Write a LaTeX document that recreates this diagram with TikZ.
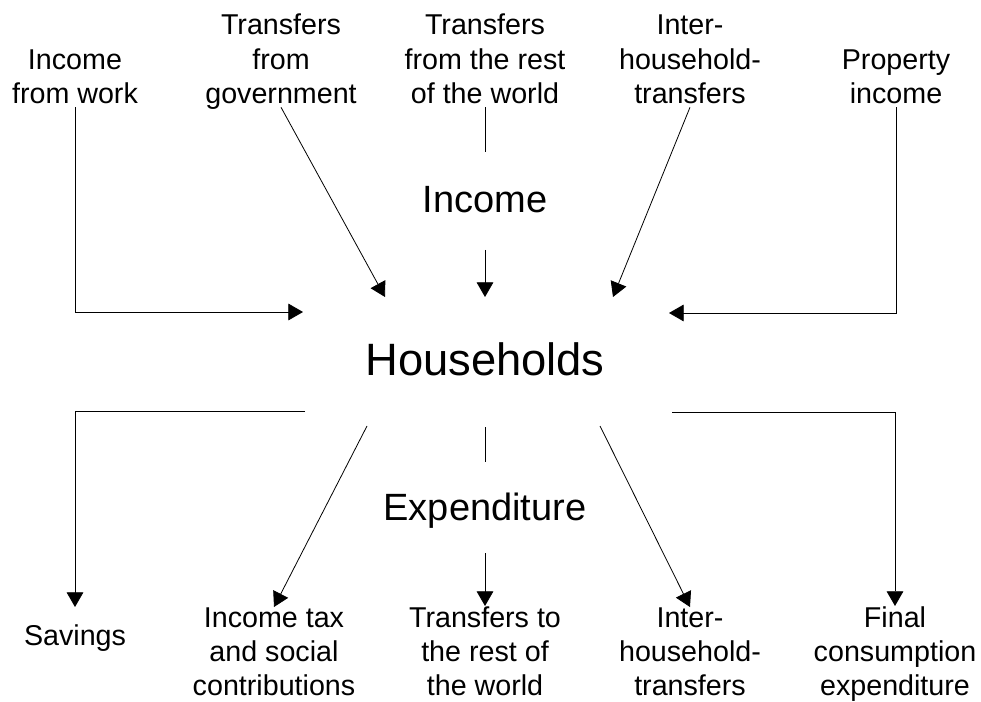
\documentclass[tikz,border=0pt]{standalone}
\usepackage{fontspec}
\setmainfont{Liberation Sans}
\usetikzlibrary{arrows.meta}
\tikzset{
	flow/.style={line width=0.6pt, -{Triangle[length=11pt,width=12.5pt]}},
	stub/.style={line width=0.6pt},
	source/.style={align=center, anchor=base, text depth=0pt, inner sep=2.25pt, font=\fontsize{21.5}{26}\selectfont},
	sink/.style={align=center, anchor=base, inner sep=0pt, font=\fontsize{21.5}{25.5}\selectfont},
	title/.style={anchor=base, inner sep=0pt, font=\fontsize{28.5}{34}\selectfont},
}

\begin{document}
\begin{tikzpicture}[x=0.75pt, y=-0.75pt]
		%%%%% START %%%%%
		\useasboundingbox (0, 0) rectangle (981, 702);
		
		% income side
		\node[source] (work) at (75, 104) {Income\\from work};
		\node[source] (gov) at (281, 104) {Transfers\\from\\government};
		\node[source] (rwin) at (485, 104) {Transfers\\from the rest\\of the world};
		\node[source] (hhin) at (690, 104) {Inter-\\household-\\transfers};
		\node[source] (prop) at (896, 104) {Property\\income};
		
		\node[title] (income) at (485, 213) {Income};
		\node[title, font=\fontsize{34}{40}\selectfont] (house) at (485, 375) {Households};
		\node[title] (expend) at (485, 520) {Expenditure};
		
		% expenditure side
		\node[anchor=base, inner sep=0pt, font=\fontsize{21.5}{26}\selectfont] (save) at (75, 645) {Savings};
		\node[sink] (tax) at (274, 695) {Income tax\\and social\\contributions};
		\node[sink] (rwout) at (485, 695) {Transfers to\\the rest of\\the world};
		\node[sink] (hhout) at (690, 695) {Inter-\\household-\\transfers};
		\node[sink] (final) at (895, 695) {Final\\consumption\\expenditure};
		
		\coordinate (inA) at (303, 312);
		\coordinate (inB) at (385, 297);
		\coordinate (inC0) at (485, 152);
		\coordinate (inC1) at (485, 250);
		\coordinate (inC) at (485, 297);
		\coordinate (inD) at (613, 297);
		\coordinate (inE) at (669, 313);
		
		\coordinate (outA0) at (305, 411);
		\coordinate (outA) at (75, 607);
		\coordinate (outB0) at (367, 426);
		\coordinate (outC0) at (485, 427);
		\coordinate (outC1) at (485, 462);
		\coordinate (outC2) at (485, 553);
		\coordinate (outD0) at (600, 426);
		\coordinate (outE0) at (672, 412);
		
		\draw[flow] (work.south) |- (inA);
		\draw[flow] (gov.south) -- (inB);
		\draw[stub] (rwin.south) -- (inC0);
		\draw[flow] (inC1) -- (inC);
		\draw[flow] (hhin.south) -- (inD);
		\draw[flow] (prop.south) |- (inE);
		
		\draw[flow] (outA0) -| (outA);
		\draw[flow] (outB0) -- (tax.north);
		\draw[stub] (outC0) -- (outC1);
		\draw[flow] (outC2) -- (rwout.north);
		\draw[flow] (outD0) -- (hhout.north);
		\draw[flow] (outE0) -| (final.north);
		
		%%%%% END %%%%%
\end{tikzpicture}
\end{document}
